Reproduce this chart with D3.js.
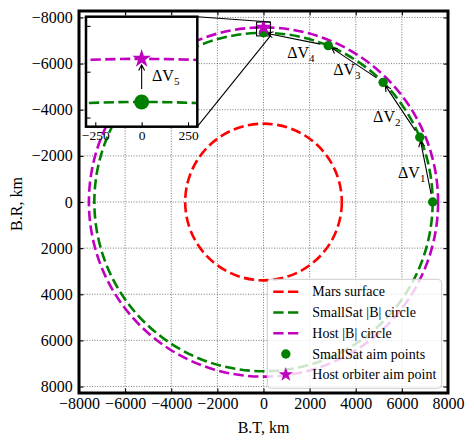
<!DOCTYPE html>
<html>
<head>
<meta charset="utf-8">
<script src="https://cdn.jsdelivr.net/npm/d3@7"></script>
<style>
  body { margin: 0; background: #fff; }
  svg, svg text { font-family: "Liberation Serif", "Times New Roman", serif !important; }
</style>
</head>
<body>
<svg id="chart" width="474" height="447"></svg>
<script>
// tick values
const axisTicks = [-8000, -6000, -4000, -2000, 0, 2000, 4000, 6000, 8000];
const insetTicksX = [-250, 0, 250];
const insetTicksY = [-7750, -7500, -7250];

// circles in the B-plane (km)
const circleNames = ['Mars surface', 'SmallSat |B| circle', 'Host |B| circle'];
const circleRadii = [3396, 7335, 7570];
const circleColors = ['#ff0000', '#008000', '#bf00bf'];

// SmallSat aim points (B.T, B.R) km
const aimBT = [7335, 6777, 5187, 2807, 0];
const aimBR = [0, -2807, -5187, -6777, -7335];

// host orbiter aim point
const hostBT = [0];
const hostBR = [-7570];

// delta-V annotation anchors (km)
const dvNames = ['1', '2', '3', '4'];
const dvLabelBT = [5836, 4753, 3020, 1027];
const dvLabelBR = [-1043, -3478, -5522, -6261];
const dv5BT = 56;
const dv5BR = -7449;

// zoomed window
const insetXLim = [-300, 300];
const insetYLim = [-7800, -7200];

const FONT = '"Liberation Serif", "Times New Roman", serif';

const svg = d3.select('#chart');
const x = d3.scaleLinear().domain([-8000, 8000]).range([79, 448]);
const y = d3.scaleLinear().domain([-8280, 8280]).range([11, 393]);
const ix = d3.scaleLinear().domain(insetXLim).range([86, 197.3]);
const iy = d3.scaleLinear().domain(insetYLim).range([16.7, 126.7]);

const fmt = d3.format('d');
const dash = '10.3,4.4';

function starPath(R) {
  const r = R * 0.382;
  const pts = d3.range(10).map((k) => {
    const a = -Math.PI / 2 + k * Math.PI / 5;
    const rr = k % 2 === 0 ? R : r;
    return [rr * Math.cos(a), rr * Math.sin(a)];
  });
  return 'M' + pts.map(p => p.join(',')).join('L') + 'Z';
}

function arrow(g, p1, p2, sA, sB) {
  const dx = p2[0] - p1[0];
  const dy = p2[1] - p1[1];
  const len = Math.hypot(dx, dy);
  const ux = dx / len;
  const uy = dy / len;
  const a = [p1[0] + ux * sA, p1[1] + uy * sA];
  const b = [p2[0] - ux * sB, p2[1] - uy * sB];
  const hl = 5.6;
  const hw = 3;
  const h1 = [b[0] - ux * hl - uy * hw, b[1] - uy * hl + ux * hw];
  const h2 = [b[0] - ux * hl + uy * hw, b[1] - uy * hl - ux * hw];
  g.append('path')
    .attr('d', `M${a}L${b}M${h1}L${b}L${h2}`)
    .attr('fill', 'none')
    .attr('stroke', '#000')
    .attr('stroke-width', 1.1);
}

function dvLabel(g, px, py, sub) {
  const t = g.append('text').attr('x', px).attr('y', py)
    .style('font-family', FONT).style('font-size', '16px');
  t.append('tspan').text('ΔV');
  t.append('tspan').attr('dy', 4).style('font-size', '11px').text(sub);
}

// clip paths
const defs = svg.append('defs');
defs.append('clipPath').attr('id', 'clipMain')
  .append('rect').attr('x', 79).attr('y', 11).attr('width', 369).attr('height', 382);
defs.append('clipPath').attr('id', 'clipInset')
  .append('rect').attr('x', 86).attr('y', 16.7).attr('width', 111.3).attr('height', 110);

const main = svg.append('g').attr('clip-path', 'url(#clipMain)');

// grid
main.append('g').selectAll('line').data(axisTicks).join('line')
  .attr('x1', d => x(d)).attr('x2', d => x(d))
  .attr('y1', 11).attr('y2', 393)
  .attr('stroke', '#555').attr('stroke-width', 0.8).attr('stroke-dasharray', '1,1.6');
main.append('g').selectAll('line').data(axisTicks).join('line')
  .attr('y1', d => y(d)).attr('y2', d => y(d))
  .attr('x1', 79).attr('x2', 448)
  .attr('stroke', '#555').attr('stroke-width', 0.8).attr('stroke-dasharray', '1,1.6');

// circles
main.append('g').selectAll('ellipse').data(circleRadii).join('ellipse')
  .attr('cx', x(0)).attr('cy', y(0))
  .attr('rx', d => x(d) - x(0)).attr('ry', d => y(d) - y(0))
  .attr('fill', 'none')
  .attr('stroke', (d, i) => circleColors[i])
  .attr('stroke-width', 2.6)
  .attr('stroke-dasharray', dash);

// inset indicator rectangle
main.append('rect')
  .attr('x', x(insetXLim[0])).attr('y', y(insetYLim[0]))
  .attr('width', x(insetXLim[1]) - x(insetXLim[0]))
  .attr('height', y(insetYLim[1]) - y(insetYLim[0]))
  .attr('fill', 'none').attr('stroke', '#000').attr('stroke-width', 1.1);

// delta-V arrows
for (let i = 0; i < aimBT.length - 1; i += 1) {
  arrow(main, [x(aimBT[i]), y(aimBR[i])], [x(aimBT[i + 1]), y(aimBR[i + 1])], 8, 4);
}

// points
main.append('g').selectAll('circle').data(aimBT).join('circle')
  .attr('cx', d => x(d)).attr('cy', (d, i) => y(aimBR[i]))
  .attr('r', 4.7).attr('fill', '#008000');
main.append('g').selectAll('path').data(hostBT).join('path')
  .attr('transform', (d, i) => `translate(${x(d)},${y(hostBR[i])})`)
  .attr('d', starPath(8.8)).attr('fill', '#bf00bf');

// labels
dvNames.forEach((n, i) => dvLabel(svg, x(dvLabelBT[i]), y(dvLabelBR[i]), n));

// connectors to inset
svg.append('line')
  .attr('x1', 197.3).attr('y1', 16.7)
  .attr('x2', x(insetXLim[1])).attr('y2', y(insetYLim[0]))
  .attr('stroke', '#000').attr('stroke-width', 1.1);
svg.append('line')
  .attr('x1', 197.3).attr('y1', 126.7)
  .attr('x2', x(insetXLim[1])).attr('y2', y(insetYLim[1]))
  .attr('stroke', '#000').attr('stroke-width', 1.1);

// inset
const inset = svg.append('g');
inset.append('rect').attr('x', 86).attr('y', 16.7).attr('width', 111.3).attr('height', 110)
  .attr('fill', '#fff');
const ic = inset.append('g').attr('clip-path', 'url(#clipInset)');
ic.selectAll('ellipse').data(circleRadii.slice(1)).join('ellipse')
  .attr('cx', ix(0)).attr('cy', iy(0))
  .attr('rx', d => ix(d) - ix(0)).attr('ry', d => iy(0) - iy(-d))
  .attr('fill', 'none')
  .attr('stroke', (d, i) => circleColors[i + 1])
  .attr('stroke-width', 2.6)
  .attr('stroke-dasharray', dash);
arrow(ic, [ix(aimBT[4]), iy(aimBR[4])], [ix(hostBT[0]), iy(hostBR[0])], 13, 6);
ic.append('circle').attr('cx', ix(aimBT[4])).attr('cy', iy(aimBR[4])).attr('r', 7.5)
  .attr('fill', '#008000');
ic.append('path').attr('transform', `translate(${ix(hostBT[0])},${iy(hostBR[0])})`)
  .attr('d', starPath(9.8)).attr('fill', '#bf00bf');
dvLabel(inset, ix(dv5BT), iy(dv5BR), '5');

inset.append('g').attr('transform', 'translate(0,126.7)')
  .call(d3.axisBottom(ix).tickValues(insetTicksX).tickFormat(fmt).tickSize(-4.5).tickPadding(4))
  .call(g => g.select('.domain').remove())
  .call(g => g.attr('font-family', FONT))
  .call(g => g.selectAll('text').style('font-family', FONT).style('font-size', '13.5px'))
  .call(g => g.selectAll('line').attr('stroke-width', 1.1));
inset.append('g').attr('transform', 'translate(86,0)')
  .call(d3.axisLeft(iy).tickValues(insetTicksY).tickFormat('').tickSize(-4.5))
  .call(g => g.select('.domain').remove())
  .call(g => g.selectAll('line').attr('stroke-width', 1.1));
inset.append('rect').attr('x', 86).attr('y', 16.7).attr('width', 111.3).attr('height', 110)
  .attr('fill', 'none').attr('stroke', '#000').attr('stroke-width', 2.5);

// legend
const leg = svg.append('g').attr('transform', 'translate(267.3,279.3)');
leg.append('rect').attr('width', 174.4).attr('height', 109).attr('rx', 4)
  .attr('fill', '#fff').attr('fill-opacity', 0.8)
  .attr('stroke', '#ccc').attr('stroke-width', 1);
const legRows = [...circleNames, 'SmallSat aim points', 'Host orbiter aim point'];
legRows.forEach((name, i) => {
  const cy = 12.4 + i * 20.75;
  if (i < 3) {
    leg.append('line').attr('x1', 6).attr('x2', 31).attr('y1', cy).attr('y2', cy)
      .attr('stroke', circleColors[i]).attr('stroke-width', 2.6).attr('stroke-dasharray', dash);
  } else if (i === 3) {
    leg.append('circle').attr('cx', 18.5).attr('cy', cy).attr('r', 4.7).attr('fill', '#008000');
  } else {
    leg.append('path').attr('transform', `translate(18.5,${cy})`).attr('d', starPath(7.6))
      .attr('fill', '#bf00bf');
  }
  leg.append('text').attr('x', 45).attr('y', cy + 4.8)
    .style('font-family', FONT).style('font-size', '14px').text(name);
});

// axes
const axG = svg.append('g');
axG.append('g').attr('transform', 'translate(0,393)')
  .call(d3.axisBottom(x).tickValues(axisTicks).tickFormat(fmt).tickSize(-4.5).tickPadding(5));
axG.append('g').attr('transform', 'translate(0,11)')
  .call(d3.axisTop(x).tickValues(axisTicks).tickFormat('').tickSize(-4.5));
axG.append('g').attr('transform', 'translate(79,0)')
  .call(d3.axisLeft(y).tickValues(axisTicks).tickFormat(fmt).tickSize(-4.5).tickPadding(6.3));
axG.append('g').attr('transform', 'translate(448,0)')
  .call(d3.axisRight(y).tickValues(axisTicks).tickFormat('').tickSize(-4.5));
axG.selectAll('.domain').remove();
axG.selectAll('g').attr('font-family', FONT);
axG.selectAll('.tick line').attr('stroke-width', 1.1);
axG.selectAll('.tick text').style('font-family', FONT).style('font-size', '16px');

svg.append('rect').attr('x', 79).attr('y', 11).attr('width', 369).attr('height', 382)
  .attr('fill', 'none').attr('stroke', '#000').attr('stroke-width', 3);

svg.append('text').attr('x', 263.5).attr('y', 433).attr('text-anchor', 'middle')
  .style('font-family', FONT).style('font-size', '16px').text('B.T, km');
svg.append('text').attr('transform', 'translate(21.5,204) rotate(-90)')
  .attr('text-anchor', 'middle')
  .style('font-family', FONT).style('font-size', '16px').text('B.R, km');
</script>
</body>
</html>
